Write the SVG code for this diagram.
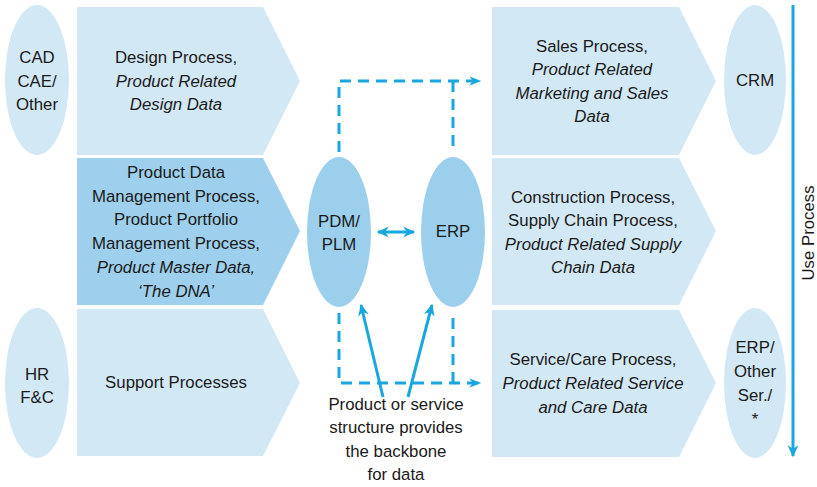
<svg xmlns="http://www.w3.org/2000/svg" width="817" height="487" viewBox="0 0 817 487">
<defs>
<style>
text{font-family:"Liberation Sans",Arial,sans-serif;font-size:16.8px;fill:#1a1a1a;text-anchor:middle}
.i{font-style:italic}
.lt{fill:#d2e8f5}
.dk{fill:#9ed0ed}
.el{fill:#d2e8f5}
.eld{fill:#9ccfec}
.dash{fill:none;stroke:#1aa7df;stroke-width:3;stroke-dasharray:11 7}
.sol{fill:none;stroke:#1aa7df;stroke-width:3}
</style>
<marker id="chev" viewBox="0 0 10 10" refX="9" refY="5" markerWidth="14" markerHeight="12" orient="auto" markerUnits="userSpaceOnUse">
<path d="M0,1 L10,5 L0,9 L3,5 Z" fill="#1aa7df"/>
</marker>
<marker id="ah" viewBox="0 0 10 10" refX="9" refY="5" markerWidth="14" markerHeight="12" orient="auto-start-reverse" markerUnits="userSpaceOnUse">
<path d="M0,0.5 L10,5 L0,9.5 L3,5 Z" fill="#1aa7df"/>
</marker>
</defs>

<g id="cad"><ellipse class="el" cx="37" cy="80" rx="32" ry="75"/>
<text x="37" y="63">CAD</text><text x="37" y="87">CAE/</text><text x="37" y="110">Other</text></g>
<g id="hr"><ellipse class="el" cx="37" cy="383" rx="32" ry="75"/>
<text x="37" y="380">HR</text><text x="37" y="403">F&amp;C</text></g>

<g id="design"><polygon class="lt" points="77,7 263,7 300,81 263,155 77,155"/>
<text x="176" y="63">Design Process,</text><text class="i" x="176" y="87">Product Related</text><text class="i" x="176" y="110">Design Data</text></g>
<g id="pdmproc"><polygon class="dk" points="77,158 263,158 300,231 263,305 77,305"/>
<text x="176" y="178">Product Data</text><text x="176" y="202">Management Process,</text><text x="176" y="225">Product Portfolio</text><text x="176" y="249">Management Process,</text><text class="i" x="176" y="273">Product Master Data,</text><text class="i" x="176" y="297">‘The DNA’</text></g>
<g id="support"><polygon class="lt" points="77,309 263,309 300,383 263,456 77,456"/>
<text x="176" y="388">Support Processes</text></g>

<g id="sales"><polygon class="lt" points="492,7 679,7 716,81 679,155 492,155"/>
<text x="592" y="52">Sales Process,</text><text class="i" x="592" y="75">Product Related</text><text class="i" x="592" y="99">Marketing and Sales</text><text class="i" x="592" y="122">Data</text></g>
<g id="construction"><polygon class="lt" points="492,158 679,158 716,231 679,305 492,305"/>
<text x="593" y="203">Construction Process,</text><text x="593" y="226">Supply Chain Process,</text><text class="i" x="593" y="250">Product Related Supply</text><text class="i" x="593" y="273">Chain Data</text></g>
<g id="service"><polygon class="lt" points="492,310 679,310 716,383 679,457 492,457"/>
<text x="593" y="365">Service/Care Process,</text><text class="i" x="593" y="389">Product Related Service</text><text class="i" x="593" y="413">and Care Data</text></g>

<g id="crm"><ellipse class="el" cx="755" cy="80" rx="31" ry="75"/><text x="755" y="86">CRM</text></g>
<g id="erpother"><ellipse class="el" cx="755" cy="383" rx="31" ry="75"/>
<text x="755" y="353">ERP/</text><text x="755" y="377">Other</text><text x="755" y="401">Ser./</text><text x="755" y="425">*</text></g>

<g id="pdm"><ellipse class="eld" cx="339" cy="232" rx="32" ry="75"/><text x="339" y="227">PDM/</text><text x="339" y="250">PLM</text></g>
<g id="erp"><ellipse class="eld" cx="453" cy="232" rx="32" ry="75"/><text x="453" y="237">ERP</text></g>

<g id="note"><text x="396" y="410">Product or service</text><text x="396" y="433">structure provides</text><text x="396" y="457">the backbone</text><text x="396" y="480">for data</text></g>

<g id="usep"><text x="0" y="0" transform="translate(814,233) rotate(-90)">Use Process</text></g>

<g id="connectors">
<path class="dash" d="M339,152 V81 H480" marker-end="url(#chev)"/>
<path class="dash" d="M453,81 V152"/>
<path class="dash" d="M339,313 V383 H480" marker-end="url(#chev)"/>
<path class="dash" d="M453,383 V313"/>
<path class="sol" d="M378,232 H414" marker-start="url(#ah)" marker-end="url(#ah)" stroke-width="2.5"/>
<path class="sol" d="M383,397 L361,305" marker-end="url(#ah)"/>
<path class="sol" d="M408,397 L432,305" marker-end="url(#ah)"/>
<path class="sol" d="M793,5 V456" marker-end="url(#ah)"/>
</g>
</svg>
